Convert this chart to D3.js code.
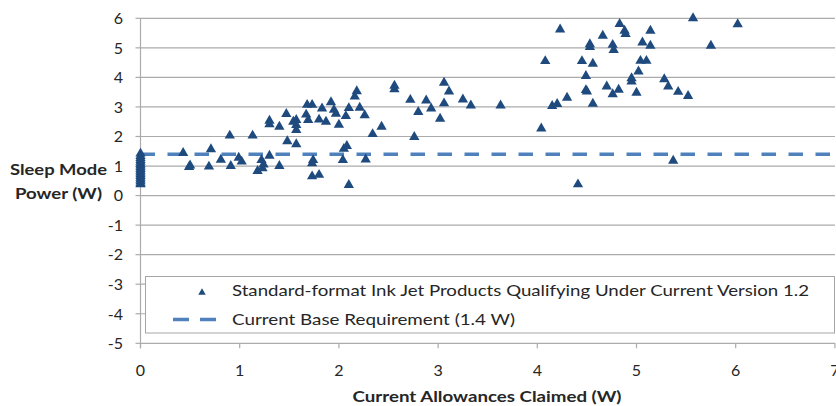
<!DOCTYPE html>
<html>
<head>
<meta charset="utf-8">
<script src="https://cdn.jsdelivr.net/npm/d3@7"></script>
<style>
  html, body { margin: 0; padding: 0; background: #ffffff; }
  svg { display: block; }
  text { font-family: Lato, "Open Sans", "Liberation Sans", sans-serif; fill: #262626; }
</style>
</head>
<body>
<svg id="chart" width="836" height="406"></svg>
<script>
// ---------- data ----------
const allowances = [
  0,0,0,0,0,0,0,0,0,0,0,0,0,0,0,0,0,0,
  0.43,0.49,0.50,0.69,0.71,0.81,0.90,0.91,0.99,1.02,1.13,1.18,1.22,1.23,1.24,
  1.30,1.30,1.30,1.40,1.40,1.47,1.48,1.54,1.57,1.57,1.57,1.57,1.67,1.68,1.69,
  1.73,1.73,1.74,1.73,1.80,1.80,1.83,1.87,1.92,1.95,1.97,2.00,2.04,2.05,2.08,
  2.10,2.07,2.10,2.16,2.18,2.21,2.26,2.27,2.34,2.43,2.56,2.56,2.72,2.76,2.80,
  2.88,2.93,3.02,3.06,3.06,3.11,3.25,3.33,3.63,4.04,4.08,4.15,4.20,4.23,4.30,
  4.41,4.45,4.49,4.49,4.50,4.53,4.53,4.56,4.56,4.66,4.70,4.76,4.77,4.76,4.82,
  4.83,4.88,4.89,4.95,4.95,5.00,5.02,5.04,5.06,5.10,5.14,5.14,5.28,5.32,5.37,
  5.42,5.52,5.57,5.75,6.02
];
const sleepPower = [
  0.38,0.42,0.48,0.54,0.60,0.66,0.72,0.78,0.84,0.90,0.96,1.02,1.08,1.14,1.20,1.27,1.34,1.42,
  1.44,0.97,1.02,0.98,1.57,1.21,2.03,1.00,1.28,1.15,2.03,0.83,1.20,0.92,1.05,
  1.35,2.53,2.41,1.00,2.33,2.76,1.84,2.50,2.56,2.39,2.22,1.74,2.74,3.07,2.56,
  3.07,1.09,1.20,0.65,0.70,2.57,2.95,2.50,3.16,2.90,2.77,2.40,1.20,1.58,1.68,
  0.36,2.69,2.96,3.35,3.53,2.97,2.72,1.22,2.08,2.33,3.72,3.60,3.24,1.98,2.83,
  3.22,2.95,2.60,3.82,3.12,3.52,3.25,3.05,3.05,2.27,4.55,3.03,3.10,5.62,3.31,
  0.38,4.55,4.05,3.57,3.52,5.12,5.03,4.46,3.11,5.41,3.69,5.10,4.93,3.43,3.58,
  5.81,5.58,5.47,3.97,3.86,3.48,4.20,4.56,5.18,4.56,5.58,5.07,3.94,3.69,1.18,
  3.51,3.37,6.00,5.07,5.80
];
const baseRequirement = 1.4;
const xTicks = [0, 1, 2, 3, 4, 5, 6, 7];
const yTicks = [-5, -4, -3, -2, -1, 0, 1, 2, 3, 4, 5, 6];
const seriesNames = ["Standard-format Ink Jet Products Qualifying Under Current Version 1.2",
                     "Current Base Requirement (1.4 W)"];
const xTitle = "Current Allowances Claimed (W)";
const yTitleLines = ["Sleep Mode", "Power (W)"];

// ---------- layout ----------
const svg = d3.select("#chart");
const plot = { left: 140.5, right: 835, top: 18.3, bottom: 343.3 };
const x = d3.scaleLinear().domain([0, 7]).range([plot.left, plot.left + 7 * 99.2]);
const y = d3.scaleLinear().domain([-5, 6]).range([plot.bottom, plot.top]);

const gridColor = "#ababab";
const markColor = "#1f4a7e";
const lineColor = "#4f81bd";

// gridlines
svg.append("g").selectAll("line").data(yTicks).join("line")
  .attr("x1", plot.left).attr("x2", plot.right)
  .attr("y1", d => y(d)).attr("y2", d => y(d))
  .attr("stroke", gridColor).attr("stroke-width", 1.2);

// y axis line + ticks
svg.append("line").attr("x1", plot.left).attr("x2", plot.left)
  .attr("y1", y(6)).attr("y2", y(-5) + 5)
  .attr("stroke", gridColor).attr("stroke-width", 1.2);
svg.append("g").selectAll("line").data(yTicks).join("line")
  .attr("x1", plot.left - 5).attr("x2", plot.left)
  .attr("y1", d => y(d)).attr("y2", d => y(d))
  .attr("stroke", gridColor).attr("stroke-width", 1.2);
// x ticks
svg.append("g").selectAll("line").data(xTicks).join("line")
  .attr("x1", d => x(d)).attr("x2", d => x(d))
  .attr("y1", y(-5)).attr("y2", y(-5) + 5)
  .attr("stroke", gridColor).attr("stroke-width", 1.2);

// tick labels
svg.append("g").selectAll("text").data(yTicks).join("text")
  .attr("x", 123).attr("y", d => y(d)).attr("dy", "0.36em")
  .attr("text-anchor", "end").style("font-size", "16px")
  .text(d => d);
svg.append("g").selectAll("text").data(xTicks).join("text")
  .attr("x", d => x(d)).attr("y", 376)
  .attr("text-anchor", "middle").style("font-size", "16px")
  .text(d => d);

// axis titles
svg.append("text").attr("x", 487).attr("y", 402).attr("text-anchor", "middle")
  .style("font-size", "15px").style("font-weight", "bold")
  .attr("textLength", 269).attr("lengthAdjust", "spacingAndGlyphs")
  .text(xTitle);
svg.append("g").selectAll("text").data(yTitleLines).join("text")
  .attr("x", 58.5).attr("y", (d, i) => 175 + i * 24)
  .attr("text-anchor", "middle")
  .style("font-size", "15px").style("font-weight", "bold")
  .attr("textLength", (d, i) => i === 0 ? 97 : 87).attr("lengthAdjust", "spacingAndGlyphs")
  .text(d => d);

// base requirement line
svg.append("line")
  .attr("x1", x(0)).attr("x2", plot.right)
  .attr("y1", y(baseRequirement)).attr("y2", y(baseRequirement))
  .attr("stroke", lineColor).attr("stroke-width", 3.5)
  .attr("stroke-dasharray", "14.5,12.5");

// points
const tri = d3.symbol().type(d3.symbolTriangle).size(46);
const pts = d3.zip(allowances, sleepPower);
svg.append("g").selectAll("path").data(pts).join("path")
  .attr("d", tri)
  .attr("transform", d => `translate(${x(d[0])},${y(d[1])})`)
  .attr("fill", markColor);

// legend
const lg = svg.append("g");
lg.append("rect").attr("x", 145.5).attr("y", 276.5).attr("width", 689).attr("height", 56.5)
  .attr("fill", "#ffffff").attr("stroke", "#a6a6a6").attr("stroke-width", 1);
lg.append("path").attr("d", d3.symbol().type(d3.symbolTriangle).size(24))
  .attr("transform", "translate(202,292.5)").attr("fill", markColor);
lg.append("line").attr("x1", 173).attr("x2", 216).attr("y1", 319.5).attr("y2", 319.5)
  .attr("stroke", lineColor).attr("stroke-width", 3.5).attr("stroke-dasharray", "16,11");
lg.selectAll("text.lt").data(seriesNames).join("text")
  .attr("class", "lt")
  .attr("x", 232).attr("y", (d, i) => 296 + i * 28.5)
  .style("font-size", "16px")
  .attr("textLength", (d, i) => i === 0 ? 577 : 283).attr("lengthAdjust", "spacingAndGlyphs")
  .text(d => d);
</script>
</body>
</html>
